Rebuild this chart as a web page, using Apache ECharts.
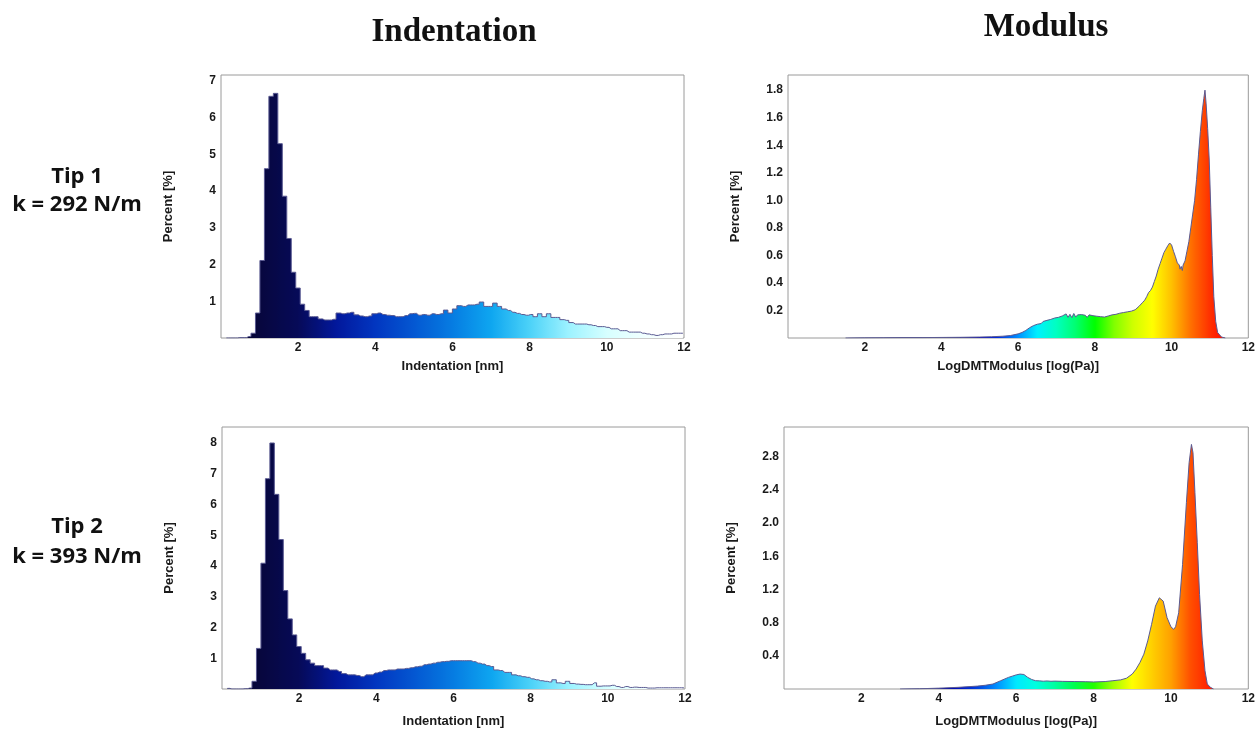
<!DOCTYPE html>
<html><head><meta charset="utf-8">
<script src="https://cdn.jsdelivr.net/npm/echarts@6/dist/echarts.min.js"></script>
<style>html,body{margin:0;padding:0;background:#fff}#c{width:1258px;height:729px}</style>
</head><body><div id="c"></div>
<script>
// ---------- DATA ----------
// Indentation histogram bins (nm): first bin edge and bin width
const BIN_START = 0.081;
const BIN_WIDTH = 0.116;
// Percent per bin, Tip 1 (k = 292 N/m)
const tip1Indentation = [0,0,0,0.01,0.01,0.04,0.13,0.68,2.11,4.61,6.58,6.66,5.29,3.86,2.71,1.79,1.36,0.92,0.75,0.58,
0.58,0.52,0.49,0.49,0.51,0.68,0.66,0.68,0.70,0.63,0.60,0.58,0.60,0.66,0.68,0.64,0.62,0.61,0.58,0.58,
0.61,0.66,0.67,0.62,0.64,0.62,0.66,0.64,0.66,0.76,0.68,0.79,0.88,0.86,0.90,0.90,0.92,0.98,0.86,0.86,
0.95,0.86,0.79,0.75,0.70,0.67,0.64,0.62,0.64,0.58,0.66,0.58,0.66,0.56,0.56,0.50,0.48,0.42,0.38,0.38,
0.38,0.36,0.34,0.31,0.31,0.29,0.25,0.25,0.20,0.20,0.16,0.16,0.16,0.13,0.11,0.09,0.07,0.09,0.11,0.11,
0.13,0.13,0.13];
// Percent per bin, Tip 2 (k = 393 N/m)
const tip2Indentation = [0.02,0,0,0,0.01,0.03,0.25,1.32,4.09,6.84,8.0,6.33,4.86,3.20,2.28,1.76,1.38,1.16,0.95,0.84,
0.76,0.76,0.68,0.62,0.62,0.57,0.50,0.46,0.46,0.44,0.40,0.46,0.46,0.52,0.55,0.60,0.62,0.62,0.65,0.65,
0.67,0.69,0.72,0.74,0.79,0.81,0.84,0.87,0.89,0.90,0.92,0.92,0.92,0.92,0.92,0.89,0.84,0.81,0.76,0.73,
0.62,0.60,0.54,0.54,0.46,0.43,0.40,0.38,0.33,0.30,0.27,0.25,0.23,0.30,0.20,0.18,0.25,0.18,0.16,0.15,
0.14,0.14,0.20,0.09,0.10,0.10,0.12,0.08,0.05,0.08,0.05,0.06,0.05,0.05,0.03,0.03,0.04,0.04,0.04,0.04,
0.04,0.04,0.04];
// LogDMTModulus histograms: log(Pa) positions and percent
const tip1ModulusX = [1.5,2.0,2.5,3.0,3.5,4.0,4.5,5.0,5.3,5.6,5.8,6.0,6.1,6.2,6.3,6.4,
6.50,6.55,6.60,6.65,6.70,6.75,6.80,6.85,6.90,6.95,7.00,7.05,7.10,7.15,7.20,7.25,7.30,7.35,7.40,7.45,
7.50,7.55,7.60,7.65,7.70,7.75,7.80,7.85,7.90,7.95,8.00,8.05,8.10,8.15,8.20,8.25,8.30,8.35,8.40,8.45,
8.50,8.55,8.60,8.65,8.70,8.75,8.80,8.85,8.90,8.95,9.00,9.05,9.10,9.15,9.20,9.25,9.30,9.35,9.40,9.45,
9.50,9.55,9.60,9.65,9.70,9.75,9.80,9.85,9.90,9.95,10.00,10.05,10.10,10.15,10.20,10.22,10.25,10.28,10.30,10.35,
10.40,10.45,10.50,10.55,10.60,10.65,10.70,10.75,10.80,10.84,10.87,10.90,10.94,10.98,11.02,11.06,11.10,11.15,11.20,11.30,11.40];
const tip1ModulusY = [0,0.001,0.002,0.003,0.003,0.004,0.005,0.007,0.009,0.013,0.018,0.03,0.04,0.055,0.075,0.09,
0.100,0.112,0.105,0.120,0.115,0.128,0.122,0.135,0.130,0.145,0.138,0.150,0.142,0.160,0.148,0.175,0.150,0.172,0.148,0.178,
0.152,0.168,0.155,0.170,0.158,0.165,0.150,0.168,0.155,0.162,0.150,0.158,0.145,0.155,0.148,0.152,0.145,0.160,0.155,0.168,
0.160,0.172,0.168,0.180,0.172,0.185,0.178,0.190,0.185,0.195,0.200,0.205,0.215,0.230,0.240,0.260,0.275,0.300,0.330,0.345,
0.370,0.410,0.450,0.500,0.540,0.580,0.620,0.645,0.670,0.690,0.675,0.630,0.590,0.545,0.530,0.500,0.520,0.490,0.530,0.560,
0.630,0.700,0.800,0.900,1.000,1.150,1.330,1.500,1.650,1.740,1.800,1.700,1.520,1.300,0.950,0.600,0.300,0.120,0.040,0.007,0];
const tip2ModulusX = [3.0,3.5,4.0,4.5,5.0,5.2,5.4,5.6,5.8,5.9,6.0,6.05,6.1,6.15,6.2,6.3,6.4,6.5,6.6,6.7,6.8,6.9,7.0,7.2,7.5,7.8,8.0,8.3,8.5,8.7,8.85,9.0,9.1,9.2,9.3,9.4,9.5,9.6,9.7,9.75,9.8,9.9,10.0,10.07,10.12,10.2,10.3,10.4,10.47,10.53,10.57,10.62,10.68,10.74,10.81,10.88,10.94,11.02,11.1];
const tip2ModulusY = [0,0.003,0.01,0.02,0.035,0.045,0.06,0.10,0.14,0.155,0.17,0.165,0.18,0.19,0.175,0.14,0.115,0.10,0.098,0.094,0.097,0.093,0.095,0.092,0.09,0.088,0.085,0.09,0.10,0.11,0.13,0.18,0.24,0.32,0.42,0.58,0.78,1.0,1.10,1.11,1.06,0.86,0.75,0.72,0.75,0.92,1.50,2.25,2.73,2.95,2.85,2.37,1.77,1.14,0.58,0.22,0.06,0.02,0];
// Axis settings (value ranges and tick steps)
const xRange = [0, 12]; const xStep = 2;
const yTip1Ind = {max: 7.16, step: 1, dec: 0};
const yTip2Ind = {max: 8.52, step: 1, dec: 0};
const yTip1Mod = {max: 1.91, step: 0.2, dec: 1};
const yTip2Mod = {max: 3.16, step: 0.4, dec: 1};
const columnTitles = ['Indentation', 'Modulus'];
const rowLabels = [['Tip 1', 'k = 292 N/m'], ['Tip 2', 'k = 393 N/m']];
const xNames = ['Indentation [nm]', 'LogDMTModulus [log(Pa)]'];
const yName = 'Percent [%]';

// ---------- BUILD ----------
function binSeries(vals){ return vals.map((v,i)=>[BIN_START + (i+0.5)*BIN_WIDTH, v]); }
function pairSeries(xs, ys){ return xs.map((x,i)=>[x, ys[i]]); }

const FONT = 'Liberation Sans, Arial, sans-serif';
const labelStyle = {fontFamily: FONT, fontWeight: 'bold', fontSize: 12, color: '#1a1a1a'};
const nameStyle = {fontFamily: FONT, fontWeight: 'bold', fontSize: 13, color: '#1a1a1a'};

const grids = [
  {left: 221, top: 75, width: 463, height: 263},
  {left: 788, top: 75, width: 464, height: 263},
  {left: 222, top: 427, width: 463, height: 264},
  {left: 784, top: 427, width: 468, height: 264}
].map(g => Object.assign({show: true, borderColor: '#9a9a9a', borderWidth: 1, backgroundColor: 'transparent', containLabel: false}, g));

function xAxis(i, name, gap){
  return {type: 'value', gridIndex: i, min: xRange[0], max: xRange[1], interval: xStep,
    name: name, nameLocation: 'middle', nameGap: gap, nameTextStyle: nameStyle,
    axisLine: {show: false}, axisTick: {show: false}, splitLine: {show: false},
    axisLabel: Object.assign({margin: 4, formatter: v => v === 0 ? '' : String(v)}, labelStyle)};
}
function yAxis(i, cfg){
  return {type: 'value', gridIndex: i, min: 0, max: cfg.max, interval: cfg.step,
    name: yName, nameLocation: 'middle', nameGap: 46, nameRotate: 90, nameTextStyle: nameStyle,
    axisLine: {show: false}, axisTick: {show: false}, splitLine: {show: false},
    axisLabel: Object.assign({margin: 5, showMaxLabel: false, formatter: v => {
      const k = Math.round(v / cfg.step);
      if (v <= 0 || Math.abs(v - k*cfg.step) > 1e-6) return '';
      return (k*cfg.step).toFixed(cfg.dec);
    }}, labelStyle)};
}

const indentColors = ['#02021e','#07073e','#060a58','#02189c','#0236c0','#0458d2','#067ce2','#0ea6f0','#4cd2f8','#9cf2ff','#d6ffff','#f2ffff','#ffffff'];
const mod1Colors = ['#000060','#000090','#0000c0','#0030e0','#0090ff','#00f0ff','#00ffc0','#00ff70','#00ff00','#80ff00','#d0ff00','#ffff00','#ffc000','#ff7000','#ff3000','#ff0000'];
const mod2Colors = ['#000060','#000090','#0010c0','#0040e0','#0090ff','#00e8ff','#00ffe0','#00ffa0','#00ff50','#20ff00','#a0ff00','#ffff00','#ffd000','#ffa000','#ff5000','#ff2000','#ff0000'];

const datasets = [
  {data: binSeries(tip1Indentation), step: 'middle'},
  {data: pairSeries(tip1ModulusX, tip1ModulusY), step: false},
  {data: binSeries(tip2Indentation), step: 'middle'},
  {data: pairSeries(tip2ModulusX, tip2ModulusY), step: false}
];
const series = [];
datasets.forEach((d, i) => {
  series.push({type: 'line', xAxisIndex: i, yAxisIndex: i, data: d.data, step: d.step,
    showSymbol: false, silent: true, lineStyle: {width: 0}, areaStyle: {opacity: 1}, z: 2});
});
datasets.forEach((d, i) => {
  series.push({type: 'line', xAxisIndex: i, yAxisIndex: i, data: d.data, step: d.step,
    showSymbol: false, silent: true, lineStyle: {width: 1, color: '#5a5a92'}, z: 3});
});

const textEl = (x, y, text, font) => ({type: 'text', x: x, y: y, silent: true,
  style: {text: text, font: font, fill: '#111', align: 'center', verticalAlign: 'middle', textAlign: 'center', textVerticalAlign: 'middle'}});

const chart = echarts.init(document.getElementById('c'), null, {renderer: 'canvas'});
chart.setOption({
  animation: false,
  backgroundColor: '#ffffff',
  grid: grids,
  xAxis: [xAxis(0, xNames[0], 22), xAxis(1, xNames[1], 22), xAxis(2, xNames[0], 26), xAxis(3, xNames[1], 26)],
  yAxis: [yAxis(0, yTip1Ind), yAxis(1, yTip1Mod), yAxis(2, yTip2Ind), yAxis(3, yTip2Mod)],
  visualMap: [
    {type: 'continuous', show: false, seriesIndex: 0, dimension: 0, min: 0, max: 12, inRange: {color: indentColors}},
    {type: 'continuous', show: false, seriesIndex: 1, dimension: 0, min: 4, max: 11.5, inRange: {color: mod1Colors}},
    {type: 'continuous', show: false, seriesIndex: 2, dimension: 0, min: 0, max: 12, inRange: {color: indentColors}},
    {type: 'continuous', show: false, seriesIndex: 3, dimension: 0, min: 3.5, max: 11.5, inRange: {color: mod2Colors}}
  ],
  series: series,
  graphic: [
    textEl(454, 32, columnTitles[0], 'bold 33px "Liberation Serif", "Times New Roman", serif'),
    textEl(1046, 27, columnTitles[1], 'bold 33px "Liberation Serif", "Times New Roman", serif'),
    textEl(77, 177, rowLabels[0][0], 'bold 22px "Open Sans", sans-serif'),
    textEl(77, 205, rowLabels[0][1], 'bold 22px "Open Sans", sans-serif'),
    textEl(77, 527, rowLabels[1][0], 'bold 22px "Open Sans", sans-serif'),
    textEl(77, 557, rowLabels[1][1], 'bold 22px "Open Sans", sans-serif')
  ]
});
</script></body></html>
